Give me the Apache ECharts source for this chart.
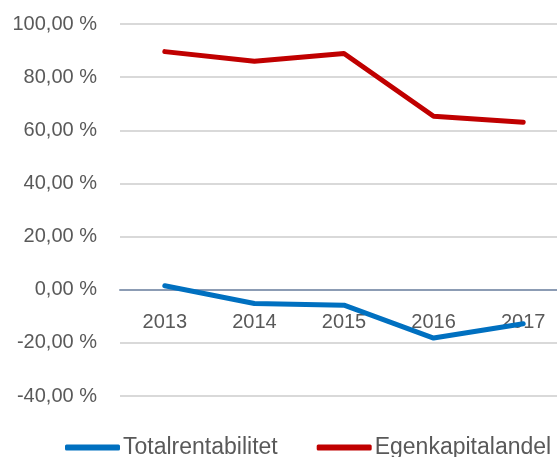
<!DOCTYPE html>
<html>
<head>
<meta charset="utf-8">
<script src="https://cdn.jsdelivr.net/npm/echarts@6/dist/echarts.min.js"></script>
<style>
  html, body { margin: 0; padding: 0; background: #fff; }
  #chart { width: 557px; height: 457px; }
</style>
</head>
<body>
<div id="chart"></div>
<script>
  // data
  const years = ['2013', '2014', '2015', '2016', '2017']
  const totalrentabilitet = [1.5, -5.2, -5.8, -18.2, -12.8]
  const egenkapitalandel = [89.6, 86.0, 88.9, 65.3, 63.0]

  const myChart = echarts.init(document.getElementById('chart'))
  const font = '"Liberation Sans", Arial, sans-serif'

  const options = {
    animation: false,
    textStyle: { fontFamily: font },
    grid: {
      left: 120,
      right: -11,
      top: 24,
      bottom: 61,
      containLabel: false,
      outerBoundsMode: 'none'
    },
    xAxis: {
      type: 'category',
      data: years,
      boundaryGap: true,
      // axis sits on the 0 % line, labels just under it
      offset: -106,
      axisLine: { onZero: false, lineStyle: { color: '#8C9CB4', width: 2 } },
      axisTick: { show: false },
      axisLabel: { color: '#595959', fontSize: 20, margin: 22 }
    },
    yAxis: {
      type: 'value',
      min: -40,
      max: 100,
      interval: 20,
      axisLine: { show: false },
      axisTick: { show: false },
      splitLine: { lineStyle: { color: '#D9D9D9', width: 2 } },
      axisLabel: {
        color: '#595959',
        fontSize: 20,
        margin: 23,
        formatter: v => v.toFixed(2).replace('.', ',') + ' %'
      }
    },
    legend: {
      top: 436,
      left: 65,
      width: 492,
      padding: 0,
      itemWidth: 55,
      itemHeight: 6,
      itemGap: 39,
      icon: 'roundRect',
      textStyle: { color: '#595959', fontSize: 23, padding: [0, 0, 0, -2] },
      data: ['Totalrentabilitet', 'Egenkapitalandel']
    },
    series: [
      {
        name: 'Totalrentabilitet',
        type: 'line',
        data: totalrentabilitet,
        showSymbol: false,
        lineStyle: { color: '#0070C0', width: 5, cap: 'round', join: 'round' },
        itemStyle: { color: '#0070C0' }
      },
      {
        name: 'Egenkapitalandel',
        type: 'line',
        data: egenkapitalandel,
        showSymbol: false,
        lineStyle: { color: '#C00000', width: 5, cap: 'round', join: 'round' },
        itemStyle: { color: '#C00000' }
      }
    ]
  }
  myChart.setOption(options)
</script>
</body>
</html>
